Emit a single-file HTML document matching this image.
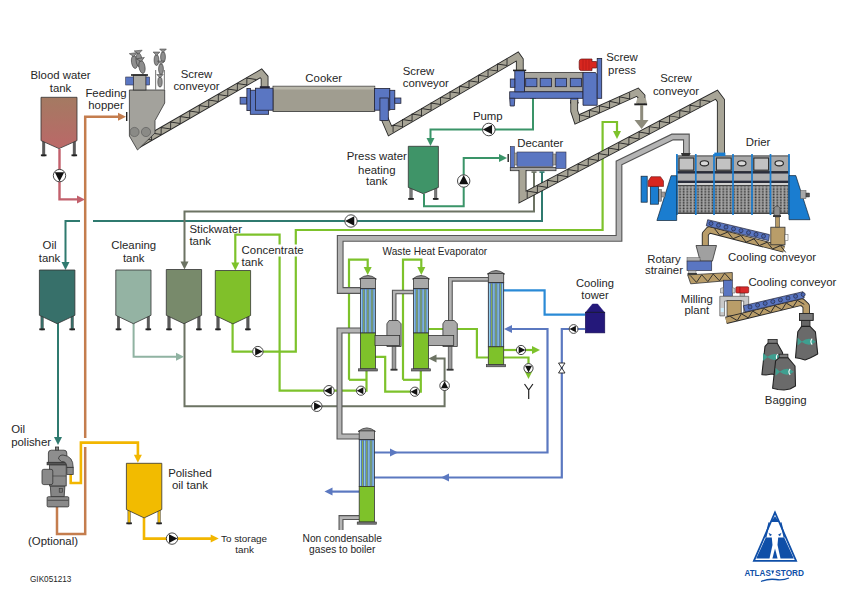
<!DOCTYPE html><html><head><meta charset="utf-8"><style>html,body{margin:0;padding:0;background:#fff;overflow:hidden;width:855px;height:589px;}svg{display:block;font-family:"Liberation Sans",sans-serif;}</style></head><body>
<svg width="855" height="589" viewBox="0 0 855 589">
<defs><linearGradient id="gblood" x1="0" y1="0" x2="0" y2="1"><stop offset="0" stop-color="#a47a62"/><stop offset="1" stop-color="#bb6868"/></linearGradient></defs>
<rect width="855" height="589" fill="#fff"/>
<polyline points="57,507 57,534 85.2,534 85.2,447" fill="none" stroke="#c47d4e" stroke-width="2.5" stroke-linejoin="miter" stroke-linecap="butt" />
<polyline points="85.2,438 85.2,116.7 120,116.7" fill="none" stroke="#c47d4e" stroke-width="2.5" stroke-linejoin="miter" stroke-linecap="butt" />
<polygon points="126,116.7 118,112.7 118,120.7" fill="#c47d4e"/>
<rect x="126" y="112" width="1.4" height="9" fill="#222"/>
<polyline points="59.5,149 59.5,199.4 78,199.4" fill="none" stroke="#c2606c" stroke-width="2.4" stroke-linejoin="miter" stroke-linecap="butt" />
<polygon points="85,199.4 77,195.4 77,203.4" fill="#c2606c"/>
<circle cx="59.5" cy="175.6" r="6.2" fill="#fff" stroke="#333" stroke-width="0.9"/>
<polygon points="59.50,181.49 54.79,172.36 64.21,172.36" fill="#111"/>
<polyline points="542,172 542,221 93,221" fill="none" stroke="#2f7a6f" stroke-width="2" stroke-linejoin="miter" stroke-linecap="butt" />
<polyline points="80,221 65.5,221 65.5,263" fill="none" stroke="#2f7a6f" stroke-width="2" stroke-linejoin="miter" stroke-linecap="butt" />
<polygon points="65.5,270 61.5,262 69.5,262" fill="#2f7a6f"/>
<polyline points="58,323 58,438" fill="none" stroke="#2f7a6f" stroke-width="2" stroke-linejoin="miter" stroke-linecap="butt" />
<polygon points="58,445 54,437 62,437" fill="#2f7a6f"/>
<rect x="539.5" y="171.3" width="5" height="1.6" fill="#2f7a6f"/>
<polyline points="534,172 534,211.5 184.5,211.5 184.5,262" fill="none" stroke="#6c7363" stroke-width="2" stroke-linejoin="miter" stroke-linecap="butt" />
<polygon points="184.5,269.5 180.5,261.5 188.5,261.5" fill="#6c7363"/>
<rect x="531.5" y="171.3" width="5" height="1.6" fill="#6c7363"/>
<polyline points="184.5,323 184.5,406.3 444.6,406.3 444.6,358.6 436,358.6" fill="none" stroke="#6c7363" stroke-width="2" stroke-linejoin="miter" stroke-linecap="butt" />
<polygon points="428.5,358.6 436.5,354.6 436.5,362.6" fill="#6c7363"/>
<polyline points="133.6,323 133.6,356.7 177,356.7" fill="none" stroke="#90b3a2" stroke-width="2" stroke-linejoin="miter" stroke-linecap="butt" />
<polygon points="184,356.7 176,352.7 176,360.7" fill="#90b3a2"/>
<polyline points="366.5,371 366.5,390.7 279.6,390.7 279.6,234.7 235.3,234.7 235.3,263" fill="none" stroke="#7dc22b" stroke-width="2.2" stroke-linejoin="miter" stroke-linecap="butt" />
<polygon points="235.3,270.5 231.3,262.5 239.3,262.5" fill="#7dc22b"/>
<polyline points="232.6,323 232.6,351.6 295.8,351.6 295.8,230 602.6,230 602.6,122 617,122 617,132" fill="none" stroke="#7dc22b" stroke-width="2.2" stroke-linejoin="miter" stroke-linecap="butt" />
<polygon points="617,139 613,131 621,131" fill="#7dc22b"/>
<polyline points="349,379.8 349,259.7 367.7,259.7 367.7,268" fill="none" stroke="#7dc22b" stroke-width="2.2" stroke-linejoin="miter" stroke-linecap="butt" />
<polygon points="367.7,275 363.7,267 371.7,267" fill="#7dc22b"/>
<polyline points="349,379.8 366.5,379.8" fill="none" stroke="#7dc22b" stroke-width="2.2" stroke-linejoin="miter" stroke-linecap="butt" />
<polyline points="375,356.9 385.2,356.9 385.2,391.7 420.8,391.7 420.8,371" fill="none" stroke="#7dc22b" stroke-width="2.2" stroke-linejoin="miter" stroke-linecap="butt" />
<polyline points="403,379.8 403,259.7 421.3,259.7 421.3,268" fill="none" stroke="#7dc22b" stroke-width="2.2" stroke-linejoin="miter" stroke-linecap="butt" />
<polygon points="421.3,275 417.3,267 425.3,267" fill="#7dc22b"/>
<polyline points="403,379.8 420.8,379.8" fill="none" stroke="#7dc22b" stroke-width="2.2" stroke-linejoin="miter" stroke-linecap="butt" />
<polyline points="428.5,329 476.9,329 476.9,357.5 488,357.5" fill="none" stroke="#7dc22b" stroke-width="2.2" stroke-linejoin="miter" stroke-linecap="butt" />
<polyline points="504,350 533,350" fill="none" stroke="#7dc22b" stroke-width="2.2" stroke-linejoin="miter" stroke-linecap="butt" />
<polygon points="540,350 532,346 532,354" fill="#7dc22b"/>
<polyline points="504,357.5 528.5,357.5 528.5,372" fill="none" stroke="#7dc22b" stroke-width="2.2" stroke-linejoin="miter" stroke-linecap="butt" />
<polygon points="528.5,379 524.5,371 532.5,371" fill="#7dc22b"/>
<path d="M524.5,384 L528.7,390 L532.9,384 M528.7,390 L528.7,399" fill="none" stroke="#222" stroke-width="1.2"/>
<polyline points="533,98 533,129.5 430.5,129.5 430.5,139" fill="none" stroke="#3a9468" stroke-width="2" stroke-linejoin="miter" stroke-linecap="butt" />
<polygon points="430.5,146 426.5,138 434.5,138" fill="#3a9468"/>
<rect x="530" y="97" width="6" height="1.4" fill="#222"/>
<polyline points="424,194 424,206.3 463.7,206.3 463.7,158 500,158" fill="none" stroke="#3a9468" stroke-width="2" stroke-linejoin="miter" stroke-linecap="butt" />
<polygon points="507,158 499,154 499,162" fill="#3a9468"/>
<rect x="507.5" y="154" width="1.4" height="8" fill="#222"/>
<polyline points="374,452.5 547.5,452.5 547.5,329 511,329" fill="none" stroke="#5b78c0" stroke-width="2.2" stroke-linejoin="miter" stroke-linecap="butt" />
<polygon points="504,329 512,325 512,333" fill="#5b78c0"/>
<polygon points="398,452.5 390,448.5 390,456.5" fill="#5b78c0"/>
<polyline points="585,329 561.8,329 561.8,477.5 374,477.5" fill="none" stroke="#5b78c0" stroke-width="2.2" stroke-linejoin="miter" stroke-linecap="butt" />
<polygon points="441,477.5 449,473.5 449,481.5" fill="#5b78c0"/>
<polyline points="359,491.6 331,491.6" fill="none" stroke="#5b78c0" stroke-width="2.2" stroke-linejoin="miter" stroke-linecap="butt" />
<polygon points="324.5,491.6 332.5,487.6 332.5,495.6" fill="#5b78c0"/>
<path d="M558.5,363 L565,363 L558.5,373 L565,373 Z" fill="#fff" stroke="#222" stroke-width="0.9"/>
<polyline points="503.7,290.4 544.6,290.4 544.6,314.7 585,314.7" fill="none" stroke="#2a8ad6" stroke-width="2.2" stroke-linejoin="miter" stroke-linecap="butt" />
<polyline points="70.7,474 70.7,483 80.9,483 80.9,442.6 137.9,442.6 137.9,456" fill="none" stroke="#f2b600" stroke-width="2.6" stroke-linejoin="miter" stroke-linecap="butt" />
<polygon points="137.9,462.8 133.9,454.8 141.9,454.8" fill="#f2b600"/>
<polyline points="144,518 144,538.6 211,538.6" fill="none" stroke="#f2b600" stroke-width="2.6" stroke-linejoin="miter" stroke-linecap="butt" />
<polygon points="218.7,538.6 210.7,534.6 210.7,542.6" fill="#f2b600"/>
<polyline points="686.4,153 686.4,137 672.5,137 619,163 619,238.4 340.2,238.4 340.2,290.5 361,290.5" fill="none" stroke="#555" stroke-width="6.8" stroke-linejoin="miter"/>
<polyline points="686.4,153 686.4,137 672.5,137 619,163 619,238.4 340.2,238.4 340.2,290.5 361,290.5" fill="none" stroke="#b4b4b4" stroke-width="4.6" stroke-linejoin="miter"/>
<polyline points="361,330.5 339.5,330.5 339.5,436.5 359,436.5" fill="none" stroke="#555" stroke-width="6" stroke-linejoin="miter"/>
<polyline points="361,330.5 339.5,330.5 339.5,436.5 359,436.5" fill="none" stroke="#b4b4b4" stroke-width="3.8" stroke-linejoin="miter"/>
<polyline points="394.2,321 394.2,292 413.5,292" fill="none" stroke="#555" stroke-width="4.6" stroke-linejoin="miter"/>
<polyline points="394.2,321 394.2,292 413.5,292" fill="none" stroke="#b4b4b4" stroke-width="2.3999999999999995" stroke-linejoin="miter"/>
<polyline points="450.4,321 450.4,279.3 488.5,279.3" fill="none" stroke="#555" stroke-width="4.8" stroke-linejoin="miter"/>
<polyline points="450.4,321 450.4,279.3 488.5,279.3" fill="none" stroke="#b4b4b4" stroke-width="2.5999999999999996" stroke-linejoin="miter"/>
<polyline points="359,517.6 341,517.6 341,530" fill="none" stroke="#555" stroke-width="5" stroke-linejoin="miter"/>
<polyline points="359,517.6 341,517.6 341,530" fill="none" stroke="#b4b4b4" stroke-width="2.8" stroke-linejoin="miter"/>
<circle cx="488.8" cy="129.5" r="6.3" fill="#fff" stroke="#333" stroke-width="0.9"/>
<polygon points="482.81,129.50 492.09,124.71 492.09,134.29" fill="#111"/>
<circle cx="463.7" cy="181" r="6.2" fill="#fff" stroke="#333" stroke-width="0.9"/>
<polygon points="463.70,175.11 458.99,184.24 468.41,184.24" fill="#111"/>
<circle cx="351" cy="221" r="6.2" fill="#fff" stroke="#333" stroke-width="0.9"/>
<polygon points="345.11,221.00 354.24,216.29 354.24,225.71" fill="#111"/>
<circle cx="257.9" cy="351.6" r="5.2" fill="#fff" stroke="#333" stroke-width="0.9"/>
<polygon points="262.84,351.60 255.18,347.65 255.18,355.55" fill="#111"/>
<circle cx="329" cy="390.7" r="5.2" fill="#fff" stroke="#333" stroke-width="0.9"/>
<polygon points="324.06,390.70 331.72,386.75 331.72,394.65" fill="#111"/>
<circle cx="361" cy="390.7" r="4.6" fill="#fff" stroke="#333" stroke-width="0.9"/>
<polygon points="356.63,390.70 363.40,387.20 363.40,394.20" fill="#111"/>
<circle cx="414.9" cy="391.7" r="4.6" fill="#fff" stroke="#333" stroke-width="0.9"/>
<polygon points="410.53,391.70 417.30,388.20 417.30,395.20" fill="#111"/>
<circle cx="316.8" cy="406.3" r="5.2" fill="#fff" stroke="#333" stroke-width="0.9"/>
<polygon points="321.74,406.30 314.08,402.35 314.08,410.25" fill="#111"/>
<circle cx="444.6" cy="385.7" r="4.8" fill="#fff" stroke="#333" stroke-width="0.9"/>
<polygon points="444.60,381.14 440.95,388.21 448.25,388.21" fill="#111"/>
<circle cx="521" cy="350" r="4.6" fill="#fff" stroke="#333" stroke-width="0.9"/>
<polygon points="525.37,350.00 518.60,346.50 518.60,353.50" fill="#111"/>
<circle cx="528.5" cy="368.2" r="4.6" fill="#fff" stroke="#333" stroke-width="0.9"/>
<polygon points="528.50,372.57 525.00,365.80 532.00,365.80" fill="#111"/>
<circle cx="573.6" cy="329" r="4.4" fill="#fff" stroke="#333" stroke-width="0.9"/>
<polygon points="569.42,329.00 575.90,325.66 575.90,332.34" fill="#111"/>
<circle cx="172" cy="538.6" r="5.7" fill="#fff" stroke="#333" stroke-width="0.9"/>
<polygon points="177.41,538.60 169.02,534.27 169.02,542.93" fill="#111"/>
<rect x="42.5" y="136.6" width="2.4" height="19.400000000000006" fill="#5a5a5a" stroke="#444" stroke-width="0.5"/>
<rect x="40.900000000000006" y="154.4" width="5.6" height="1.8" fill="#222"/>
<rect x="73.1" y="136.6" width="2.4" height="19.400000000000006" fill="#5a5a5a" stroke="#444" stroke-width="0.5"/>
<rect x="71.5" y="154.4" width="5.6" height="1.8" fill="#222"/>
<polygon points="41,97.3 77,97.3 77,140.6 59.0,148.6 41,140.6" fill="url(#gblood)" stroke="#333" stroke-width="0.8"/>
<rect x="40.9" y="311.3" width="2.4" height="18.69999999999999" fill="#37706a" stroke="#444" stroke-width="0.5"/>
<rect x="39.300000000000004" y="328.4" width="5.6" height="1.8" fill="#222"/>
<rect x="71.0" y="311.3" width="2.4" height="18.69999999999999" fill="#37706a" stroke="#444" stroke-width="0.5"/>
<rect x="69.4" y="328.4" width="5.6" height="1.8" fill="#222"/>
<polygon points="39.4,270 74.9,270 74.9,315.3 57.15,323.7 39.4,315.3" fill="#37706a" stroke="#333" stroke-width="0.8"/>
<rect x="117.3" y="311.3" width="2.4" height="18.69999999999999" fill="#5a5a5a" stroke="#444" stroke-width="0.5"/>
<rect x="115.7" y="328.4" width="5.6" height="1.8" fill="#222"/>
<rect x="147.10000000000002" y="311.3" width="2.4" height="18.69999999999999" fill="#5a5a5a" stroke="#444" stroke-width="0.5"/>
<rect x="145.5" y="328.4" width="5.6" height="1.8" fill="#222"/>
<polygon points="115.8,270 151.0,270 151.0,315.3 133.4,323.7 115.8,315.3" fill="#94b3a3" stroke="#333" stroke-width="0.8"/>
<rect x="167.8" y="311.3" width="2.4" height="18.69999999999999" fill="#5a5a5a" stroke="#444" stroke-width="0.5"/>
<rect x="166.2" y="328.4" width="5.6" height="1.8" fill="#222"/>
<rect x="197.70000000000005" y="311.3" width="2.4" height="18.69999999999999" fill="#5a5a5a" stroke="#444" stroke-width="0.5"/>
<rect x="196.10000000000002" y="328.4" width="5.6" height="1.8" fill="#222"/>
<polygon points="166.3,269.5 201.60000000000002,269.5 201.60000000000002,315.3 183.95000000000002,323.7 166.3,315.3" fill="#788a6b" stroke="#333" stroke-width="0.8"/>
<rect x="216.8" y="311.5" width="2.4" height="18.5" fill="#5a5a5a" stroke="#444" stroke-width="0.5"/>
<rect x="215.2" y="328.4" width="5.6" height="1.8" fill="#222"/>
<rect x="246.70000000000005" y="311.5" width="2.4" height="18.5" fill="#5a5a5a" stroke="#444" stroke-width="0.5"/>
<rect x="245.10000000000002" y="328.4" width="5.6" height="1.8" fill="#222"/>
<polygon points="215.3,270.5 250.60000000000002,270.5 250.60000000000002,315.5 232.95000000000002,323.9 215.3,315.5" fill="#80c02a" stroke="#333" stroke-width="0.8"/>
<rect x="409.8" y="183.4" width="2.4" height="16.19999999999999" fill="#7a7a7a" stroke="#444" stroke-width="0.5"/>
<rect x="408.2" y="198.0" width="5.6" height="1.8" fill="#222"/>
<rect x="434.50000000000006" y="183.4" width="2.4" height="16.19999999999999" fill="#7a7a7a" stroke="#444" stroke-width="0.5"/>
<rect x="432.90000000000003" y="198.0" width="5.6" height="1.8" fill="#222"/>
<polygon points="408.3,146.3 438.40000000000003,146.3 438.40000000000003,187.4 423.35,193.70000000000002 408.3,187.4" fill="#3f9468" stroke="#333" stroke-width="0.8"/>
<rect x="127.9" y="505.5" width="2.4" height="18.5" fill="#f2bb00" stroke="#444" stroke-width="0.5"/>
<rect x="126.30000000000001" y="522.4" width="5.6" height="1.8" fill="#222"/>
<rect x="157.90000000000003" y="505.5" width="2.4" height="18.5" fill="#f2bb00" stroke="#444" stroke-width="0.5"/>
<rect x="156.3" y="522.4" width="5.6" height="1.8" fill="#222"/>
<polygon points="126.4,463.3 161.8,463.3 161.8,509.5 144.1,517.9 126.4,509.5" fill="#f2bb00" stroke="#333" stroke-width="0.8"/>
<path d="M359.4,279 Q367.9,272 376.4,279 Z" fill="#8a8a8a" stroke="#333" stroke-width="0.8"/>
<rect x="360.4" y="278.5" width="15" height="10.100000000000023" fill="#a9a9a9" stroke="#333" stroke-width="0.8" />
<rect x="360.4" y="288.6" width="15" height="44.39999999999998" fill="#5274b4" stroke="#333" stroke-width="0.8" />
<line x1="361.7" y1="289.40000000000003" x2="361.7" y2="332.5" stroke="#96d4f4" stroke-width="1.1"/>
<line x1="363.8" y1="289.40000000000003" x2="363.8" y2="332.5" stroke="#8cb44a" stroke-width="1.1"/>
<line x1="365.8" y1="289.40000000000003" x2="365.8" y2="332.5" stroke="#96d4f4" stroke-width="1.1"/>
<line x1="367.9" y1="289.40000000000003" x2="367.9" y2="332.5" stroke="#8cb44a" stroke-width="1.1"/>
<line x1="370.0" y1="289.40000000000003" x2="370.0" y2="332.5" stroke="#96d4f4" stroke-width="1.1"/>
<line x1="372.0" y1="289.40000000000003" x2="372.0" y2="332.5" stroke="#8cb44a" stroke-width="1.1"/>
<line x1="374.1" y1="289.40000000000003" x2="374.1" y2="332.5" stroke="#96d4f4" stroke-width="1.1"/>
<rect x="360.4" y="333" width="15" height="35.80000000000001" fill="#7ec22a" stroke="#333" stroke-width="0.8" />
<rect x="358.4" y="368.8" width="19" height="2.2" fill="#777" stroke="#333" stroke-width="0.6" />
<path d="M412.5,279 Q421.0,272 429.5,279 Z" fill="#8a8a8a" stroke="#333" stroke-width="0.8"/>
<rect x="413.5" y="278.5" width="15" height="10.100000000000023" fill="#a9a9a9" stroke="#333" stroke-width="0.8" />
<rect x="413.5" y="288.6" width="15" height="44.39999999999998" fill="#5274b4" stroke="#333" stroke-width="0.8" />
<line x1="414.8" y1="289.40000000000003" x2="414.8" y2="332.5" stroke="#96d4f4" stroke-width="1.1"/>
<line x1="416.9" y1="289.40000000000003" x2="416.9" y2="332.5" stroke="#8cb44a" stroke-width="1.1"/>
<line x1="418.9" y1="289.40000000000003" x2="418.9" y2="332.5" stroke="#96d4f4" stroke-width="1.1"/>
<line x1="421.0" y1="289.40000000000003" x2="421.0" y2="332.5" stroke="#8cb44a" stroke-width="1.1"/>
<line x1="423.1" y1="289.40000000000003" x2="423.1" y2="332.5" stroke="#96d4f4" stroke-width="1.1"/>
<line x1="425.1" y1="289.40000000000003" x2="425.1" y2="332.5" stroke="#8cb44a" stroke-width="1.1"/>
<line x1="427.2" y1="289.40000000000003" x2="427.2" y2="332.5" stroke="#96d4f4" stroke-width="1.1"/>
<rect x="413.5" y="333" width="15" height="35.80000000000001" fill="#7ec22a" stroke="#333" stroke-width="0.8" />
<rect x="411.5" y="368.8" width="19" height="2.2" fill="#777" stroke="#333" stroke-width="0.6" />
<path d="M487.3,274 Q496.0,267 504.7,274 Z" fill="#8a8a8a" stroke="#333" stroke-width="0.8"/>
<rect x="488.3" y="273.5" width="15.4" height="9.100000000000023" fill="#a9a9a9" stroke="#333" stroke-width="0.8" />
<rect x="488.3" y="282.6" width="15.4" height="64.19999999999999" fill="#5274b4" stroke="#333" stroke-width="0.8" />
<line x1="489.6" y1="283.40000000000003" x2="489.6" y2="346.3" stroke="#96d4f4" stroke-width="1.1"/>
<line x1="491.7" y1="283.40000000000003" x2="491.7" y2="346.3" stroke="#8cb44a" stroke-width="1.1"/>
<line x1="493.9" y1="283.40000000000003" x2="493.9" y2="346.3" stroke="#96d4f4" stroke-width="1.1"/>
<line x1="496.0" y1="283.40000000000003" x2="496.0" y2="346.3" stroke="#8cb44a" stroke-width="1.1"/>
<line x1="498.1" y1="283.40000000000003" x2="498.1" y2="346.3" stroke="#96d4f4" stroke-width="1.1"/>
<line x1="500.3" y1="283.40000000000003" x2="500.3" y2="346.3" stroke="#8cb44a" stroke-width="1.1"/>
<line x1="502.4" y1="283.40000000000003" x2="502.4" y2="346.3" stroke="#96d4f4" stroke-width="1.1"/>
<rect x="488.3" y="346.8" width="15.4" height="17.80000000000001" fill="#7ec22a" stroke="#333" stroke-width="0.8" />
<rect x="486.3" y="364.6" width="19.4" height="2.2" fill="#777" stroke="#333" stroke-width="0.6" />
<path d="M358.2,431.4 Q366.8,424.4 375.4,431.4 Z" fill="#8a8a8a" stroke="#333" stroke-width="0.8"/>
<rect x="359.2" y="430.9" width="15.2" height="8.700000000000045" fill="#a9a9a9" stroke="#333" stroke-width="0.8" />
<rect x="359.2" y="439.6" width="15.2" height="46.799999999999955" fill="#5274b4" stroke="#333" stroke-width="0.8" />
<line x1="360.5" y1="440.40000000000003" x2="360.5" y2="485.9" stroke="#96d4f4" stroke-width="1.1"/>
<line x1="362.6" y1="440.40000000000003" x2="362.6" y2="485.9" stroke="#8cb44a" stroke-width="1.1"/>
<line x1="364.7" y1="440.40000000000003" x2="364.7" y2="485.9" stroke="#96d4f4" stroke-width="1.1"/>
<line x1="366.8" y1="440.40000000000003" x2="366.8" y2="485.9" stroke="#8cb44a" stroke-width="1.1"/>
<line x1="368.9" y1="440.40000000000003" x2="368.9" y2="485.9" stroke="#96d4f4" stroke-width="1.1"/>
<line x1="371.0" y1="440.40000000000003" x2="371.0" y2="485.9" stroke="#8cb44a" stroke-width="1.1"/>
<line x1="373.1" y1="440.40000000000003" x2="373.1" y2="485.9" stroke="#96d4f4" stroke-width="1.1"/>
<rect x="359.2" y="486.4" width="15.2" height="35.60000000000002" fill="#7ec22a" stroke="#333" stroke-width="0.8" />
<rect x="357.2" y="522" width="19.2" height="2.2" fill="#777" stroke="#333" stroke-width="0.6" />
<rect x="392.1" y="346.5" width="3.8" height="23.30000000000001" fill="#9c9c9c" stroke="#333" stroke-width="0.6" />
<rect x="390.5" y="368.8" width="7" height="1.8" fill="#333"/>
<path d="M389.09999999999997,320.5 L398.09999999999997,320.5 L401.09999999999997,323.8 L401.09999999999997,346.5 L386.9,346.5 L386.9,323.8 Z" fill="#a9a9a9" stroke="#333" stroke-width="0.8"/>
<rect x="448.2" y="346.5" width="3.8" height="23.30000000000001" fill="#9c9c9c" stroke="#333" stroke-width="0.6" />
<rect x="446.59999999999997" y="368.8" width="7" height="1.8" fill="#333"/>
<path d="M445.09999999999997,320.5 L454.29999999999995,320.5 L457.29999999999995,323.8 L457.29999999999995,346.5 L442.9,346.5 L442.9,323.8 Z" fill="#a9a9a9" stroke="#333" stroke-width="0.8"/>
<rect x="375" y="335.4" width="24.6" height="10" fill="#a9a9a9" stroke="#333" stroke-width="0.8" />
<rect x="428.5" y="335.4" width="25.2" height="10" fill="#a9a9a9" stroke="#333" stroke-width="0.8" />
<polygon points="585.3,312.8 592.5,304 597.6,304 604.8,312.8" fill="#24187a" stroke="#24187a" stroke-width="0.5"/>
<rect x="585.3" y="312.3" width="19.5" height="20.6" fill="#24187a" stroke="#1a1050" stroke-width="0.6" />
<rect x="585.3" y="311.8" width="19.5" height="1.2" fill="#1a1a40"/>
<polyline points="137.9,144.5 261,73.35 264.6,77.5 264.6,88" fill="none" stroke="#2a2a2a" stroke-width="7.8" stroke-linejoin="miter" stroke-miterlimit="10"/>
<polyline points="137.9,144.5 261,73.35 264.6,77.5 264.6,88" fill="none" stroke="#a8a597" stroke-width="6" stroke-linejoin="miter" stroke-miterlimit="10"/>
<g transform="translate(141,142.7) rotate(-30.018)">
<polyline points="-0.5,3.0 3.0,-3.0 10.5,3.0 14.0,-3.0 21.5,3.0 25.0,-3.0 32.5,3.0 36.0,-3.0 43.5,3.0 47.0,-3.0 54.5,3.0 58.0,-3.0 65.5,3.0 69.0,-3.0 76.5,3.0 80.0,-3.0 87.5,3.0 91.0,-3.0 98.5,3.0 102.0,-3.0 109.5,3.0 113.0,-3.0 120.5,3.0 124.0,-3.0 131.5,3.0" fill="none" stroke="#2a2a2a" stroke-width="0.9" stroke-linejoin="miter"/>
</g>
<path d="M129.4,90 L164.7,90 L164.7,103 L155,120.6 L155,133 L137.5,150 L129.4,136 Z" fill="#a3a29c" stroke="#333" stroke-width="0.8"/>
<circle cx="134.5" cy="132" r="4.6" fill="#8a8a86" stroke="#555" stroke-width="0.6"/>
<circle cx="146" cy="132" r="4.6" fill="#8a8a86" stroke="#555" stroke-width="0.6"/>
<rect x="133.3" y="75" width="12.7" height="15" fill="#aaa9a3" stroke="#333" stroke-width="0.8" />
<rect x="131" y="74.2" width="17" height="1.6" fill="#222"/>
<rect x="125.7" y="77" width="7.6" height="8" fill="#5a76c2" stroke="#334" stroke-width="0.6" />
<rect x="146" y="77" width="3.6" height="8" fill="#5a76c2" stroke="#334" stroke-width="0.6" />
<rect x="155" y="70" width="1.2" height="20" fill="#888"/><rect x="163.8" y="70" width="1.2" height="20" fill="#888"/>
<g transform="translate(134.5,62) rotate(-8)"><ellipse cx="0" cy="0" rx="3" ry="6.5" fill="#8e8e8e" stroke="#333" stroke-width="0.6"/><path d="M0,-5.5 L-4,-9.0 L4,-9.0 Z" fill="#8e8e8e" stroke="#333" stroke-width="0.5"/></g>
<g transform="translate(139,60) rotate(-5)"><ellipse cx="0" cy="0" rx="3" ry="7" fill="#8e8e8e" stroke="#333" stroke-width="0.6"/><path d="M0,-6 L-4,-9.5 L4,-9.5 Z" fill="#8e8e8e" stroke="#333" stroke-width="0.5"/></g>
<g transform="translate(142,67) rotate(-10)"><ellipse cx="0" cy="0" rx="3" ry="6.5" fill="#8e8e8e" stroke="#333" stroke-width="0.6"/><path d="M0,-5.5 L-4,-9.0 L4,-9.0 Z" fill="#8e8e8e" stroke="#333" stroke-width="0.5"/></g>
<g transform="translate(156.5,60) rotate(0)"><ellipse cx="0" cy="0" rx="2.4" ry="5.5" fill="#8e8e8e" stroke="#333" stroke-width="0.6"/><path d="M0,-4.5 L-3.4,-8.0 L3.4,-8.0 Z" fill="#8e8e8e" stroke="#333" stroke-width="0.5"/></g>
<g transform="translate(163,57) rotate(0)"><ellipse cx="0" cy="0" rx="2.4" ry="5.5" fill="#8e8e8e" stroke="#333" stroke-width="0.6"/><path d="M0,-4.5 L-3.4,-8.0 L3.4,-8.0 Z" fill="#8e8e8e" stroke="#333" stroke-width="0.5"/></g>
<g transform="translate(161,69) rotate(0)"><ellipse cx="0" cy="0" rx="2.4" ry="5.5" fill="#8e8e8e" stroke="#333" stroke-width="0.6"/><path d="M0,-4.5 L-3.4,-8.0 L3.4,-8.0 Z" fill="#8e8e8e" stroke="#333" stroke-width="0.5"/></g>
<g transform="translate(160,82) rotate(0)"><ellipse cx="0" cy="0" rx="2.2" ry="5" fill="#8e8e8e" stroke="#333" stroke-width="0.6"/><path d="M0,-4 L-3.2,-7.5 L3.2,-7.5 Z" fill="#8e8e8e" stroke="#333" stroke-width="0.5"/></g>
<rect x="273" y="86.2" width="101.8" height="25.3" fill="#a09d90" stroke="#333" stroke-width="0.8" />
<rect x="273.5" y="86.7" width="101" height="2.8" fill="#b9b7aa"/>
<rect x="240.1" y="97.3" width="6.8" height="6.8" fill="#5a76c2" stroke="#223" stroke-width="0.8" />
<rect x="246.9" y="88.5" width="3.6" height="22.1" fill="#5a76c2" stroke="#223" stroke-width="0.8" />
<rect x="250.3" y="90.2" width="18.3" height="24.1" fill="#5a76c2" stroke="#223" stroke-width="0.8" />
<rect x="255.4" y="88.2" width="17.6" height="22" fill="#5a76c2" stroke="#223" stroke-width="0.8" />
<rect x="259.8" y="86.2" width="10" height="1.8" fill="#223"/>
<rect x="374.5" y="88.4" width="15.3" height="21.8" fill="#5a76c2" stroke="#223" stroke-width="0.8" />
<rect x="389.8" y="90.3" width="5" height="19.1" fill="#5a76c2" stroke="#223" stroke-width="0.8" />
<rect x="394.8" y="98" width="6.1" height="5.3" fill="#5a76c2" stroke="#223" stroke-width="0.8" />
<polyline points="384.4,118 390,131 517.3,56.5 519.8,60 519.8,72" fill="none" stroke="#2a2a2a" stroke-width="7.8" stroke-linejoin="miter" stroke-miterlimit="10"/>
<polyline points="384.4,118 390,131 517.3,56.5 519.8,60 519.8,72" fill="none" stroke="#a8a597" stroke-width="6" stroke-linejoin="miter" stroke-miterlimit="10"/>
<g transform="translate(392,129.3) rotate(-30.328)">
<polyline points="-0.5,3.0 3.0,-3.0 10.5,3.0 14.0,-3.0 21.5,3.0 25.0,-3.0 32.5,3.0 36.0,-3.0 43.5,3.0 47.0,-3.0 54.5,3.0 58.0,-3.0 65.5,3.0 69.0,-3.0 76.5,3.0 80.0,-3.0 87.5,3.0 91.0,-3.0 98.5,3.0 102.0,-3.0 109.5,3.0 113.0,-3.0 120.5,3.0 124.0,-3.0 131.5,3.0 135.0,-3.0" fill="none" stroke="#2a2a2a" stroke-width="0.9" stroke-linejoin="miter"/>
</g>
<rect x="379.9" y="98" width="8.4" height="22.5" fill="#5a76c2" stroke="#223" stroke-width="0.8" />
<rect x="524.5" y="72.5" width="58.5" height="19.3" fill="#a8a69e" stroke="#333" stroke-width="0.8" />
<rect x="525.7" y="78.3" width="11.2" height="8.4" fill="#5a76c2" stroke="#223" stroke-width="0.8" />
<rect x="540.2" y="78.3" width="11.2" height="8.4" fill="#5a76c2" stroke="#223" stroke-width="0.8" />
<rect x="555.3" y="78.3" width="11.2" height="8.4" fill="#5a76c2" stroke="#223" stroke-width="0.8" />
<rect x="570.3" y="78.3" width="11.2" height="8.4" fill="#5a76c2" stroke="#223" stroke-width="0.8" />
<rect x="509.7" y="91.8" width="73.3" height="6.5" fill="#5a76c2" stroke="#223" stroke-width="0.8" />
<rect x="514.8" y="70.6" width="9.7" height="21.2" fill="#5a76c2" stroke="#223" stroke-width="0.8" />
<rect x="513" y="69.6" width="13.2" height="1.6" fill="#222"/>
<rect x="510.3" y="79" width="4.5" height="8.3" fill="#5a76c2" stroke="#223" stroke-width="0.8" />
<path d="M509.7,98.3 L514.8,98.3 L514.3,106 L510.2,106 Z" fill="#5a76c2" stroke="#223" stroke-width="0.8"/>
<path d="M583,72.5 L595.5,72.5 L597.2,75 L597.2,105.3 L583,105.3 Z" fill="#5a76c2" stroke="#223" stroke-width="0.8"/>
<rect x="597.2" y="58.4" width="4.5" height="39.9" fill="#5a76c2" stroke="#223" stroke-width="0.8" />
<path d="M581.5,59 L592,59 L592,61.5 L596.5,61.5 L596.5,68 L592,68 L592,70.6 L581.5,70.6 Q579.2,70.6 579.2,68 L579.2,61.5 Q579.2,59 581.5,59 Z" fill="#d8261f" stroke="#611" stroke-width="0.7"/>
<path d="M583,59.5 L583,70 M586,59.5 L586,70 M589,59.5 L589,70" stroke="#a01515" stroke-width="0.5"/>
<rect x="570.8" y="98.3" width="7.1" height="4" fill="#5a76c2" stroke="#223" stroke-width="0.7" />
<rect x="570" y="102" width="8.6" height="1.5" fill="#222"/>
<polyline points="574.2,100 574.2,111 577,119.4 637.5,92.2 641.5,96.5 641.5,104.5" fill="none" stroke="#2a2a2a" stroke-width="7.8" stroke-linejoin="miter" stroke-miterlimit="10"/>
<polyline points="574.2,100 574.2,111 577,119.4 637.5,92.2 641.5,96.5 641.5,104.5" fill="none" stroke="#a8a597" stroke-width="6" stroke-linejoin="miter" stroke-miterlimit="10"/>
<g transform="translate(578,118.9) rotate(-24.186)">
<polyline points="0.3,3.0 3.0,-3.0 11.3,3.0 14.0,-3.0 22.3,3.0 25.0,-3.0 33.3,3.0 36.0,-3.0 44.3,3.0 47.0,-3.0 55.3,3.0 58.0,-3.0" fill="none" stroke="#2a2a2a" stroke-width="0.9" stroke-linejoin="miter"/>
</g>
<path d="M637.3,98 L645.7,98 L647.1,103.6 L635.9,103.6 Z" fill="#a8a597"/>
<rect x="634.3" y="103.4" width="12.8" height="1.9" fill="#222"/>
<rect x="640.2" y="105" width="3" height="16" fill="#8d8b7c"/>
<polygon points="634.5,120 648.5,120 641.6,129" fill="#8d8b7c"/>
<rect x="510.3" y="167.5" width="45.7" height="3.2" fill="#a3a3a3" stroke="#333" stroke-width="0.8" />
<polyline points="522.5,170 522.5,197.1 716.5,94.7 720.9,100.5 720.9,153" fill="none" stroke="#2a2a2a" stroke-width="8.0" stroke-linejoin="miter" stroke-miterlimit="10"/>
<polyline points="522.5,170 522.5,197.1 716.5,94.7 720.9,100.5 720.9,153" fill="none" stroke="#a8a597" stroke-width="6.2" stroke-linejoin="miter" stroke-miterlimit="10"/>
<g transform="translate(526,195.2) rotate(-27.819)">
<polyline points="-0.3,3.1 3.0,-3.1 11.2,3.1 14.5,-3.1 22.7,3.1 26.0,-3.1 34.2,3.1 37.5,-3.1 45.7,3.1 49.0,-3.1 57.2,3.1 60.5,-3.1 68.7,3.1 72.0,-3.1 80.2,3.1 83.5,-3.1 91.7,3.1 95.0,-3.1 103.2,3.1 106.5,-3.1 114.7,3.1 118.0,-3.1 126.2,3.1 129.5,-3.1 137.7,3.1 141.0,-3.1 149.2,3.1 152.5,-3.1 160.7,3.1 164.0,-3.1 172.2,3.1 175.5,-3.1 183.7,3.1 187.0,-3.1 195.2,3.1 198.5,-3.1 206.7,3.1" fill="none" stroke="#2a2a2a" stroke-width="0.9" stroke-linejoin="miter"/>
</g>
<rect x="510.3" y="146.5" width="4" height="21" fill="#5a76c2" stroke="#334" stroke-width="0.6" />
<rect x="514.3" y="153" width="3" height="12" fill="#a3a3a3" stroke="#555" stroke-width="0.5" />
<rect x="517" y="152" width="36" height="14.3" fill="#5a76c2" stroke="#334" stroke-width="0.6" />
<rect x="553" y="154" width="3" height="11" fill="#a3a3a3" stroke="#555" stroke-width="0.5" />
<rect x="556" y="152" width="10" height="16.5" fill="#5a76c2" stroke="#334" stroke-width="0.6" />
<rect x="676.7" y="155.9" width="112.3" height="15.6" fill="#a9a9a9" stroke="#333" stroke-width="0.9" />
<rect x="676.7" y="171.4" width="112.3" height="2.4" fill="#2a2d3a"/>
<rect x="676.7" y="173.8" width="112.3" height="6.7" fill="#b0b0b0"/>
<rect x="676.7" y="180.5" width="112.3" height="2.6" fill="#2a2d3a"/>
<rect x="676.7" y="183.1" width="112.3" height="1.9" fill="#cfcfcf"/>
<rect x="676.7" y="185" width="112.3" height="1.6" fill="#444"/>
<defs><pattern id="dgrid" x="678.6" y="187.8" width="3.6" height="2.75" patternUnits="userSpaceOnUse"><rect width="3.6" height="2.75" fill="#a6a6a6"/><rect x="0.6" y="0.5" width="1.7" height="1.6" fill="#2e2e2e"/></pattern></defs>
<rect x="676.7" y="186.6" width="112.3" height="26.6" fill="url(#dgrid)"/>
<rect x="676.7" y="212.6" width="112.3" height="1.3" fill="#333"/>
<rect x="679.0" y="158" width="14.8" height="12.2" fill="#c2c2c2" stroke="#333" stroke-width="1.2" />
<ellipse cx="704.4" cy="163.3" rx="4.2" ry="2.6" fill="#d8d8d8" stroke="#222" stroke-width="1.1"/>
<rect x="716.4" y="158" width="14.8" height="12.2" fill="#c2c2c2" stroke="#333" stroke-width="1.2" />
<ellipse cx="741.8" cy="163.3" rx="4.2" ry="2.6" fill="#d8d8d8" stroke="#222" stroke-width="1.1"/>
<rect x="753.8" y="158" width="14.8" height="12.2" fill="#c2c2c2" stroke="#333" stroke-width="1.2" />
<ellipse cx="779.1999999999999" cy="163.3" rx="4.2" ry="2.6" fill="#d8d8d8" stroke="#222" stroke-width="1.1"/>
<rect x="676.05" y="154" width="1.7" height="61" fill="#1a7dd0"/>
<rect x="694.9499999999999" y="154" width="1.7" height="61" fill="#1a7dd0"/>
<rect x="713.15" y="154" width="1.7" height="61" fill="#1a7dd0"/>
<rect x="732.15" y="154" width="1.7" height="61" fill="#1a7dd0"/>
<rect x="751.15" y="154" width="1.7" height="61" fill="#1a7dd0"/>
<rect x="769.65" y="154" width="1.7" height="61" fill="#1a7dd0"/>
<rect x="788.15" y="154" width="1.7" height="61" fill="#1a7dd0"/>
<rect x="714.3" y="152.6" width="11.1" height="3.5" fill="#1a7dd0"/>
<path d="M681,153 L690.6,153 L689.5,156.1 L682,156.1 Z" fill="#333"/>
<polygon points="671.1,175.7 676.7,175.7 676.7,220.5 656.9,220.5" fill="#1a7dd0" stroke="#123" stroke-width="0.7"/>
<polygon points="789,175.6 795.8,175.6 810,219.7 789,219.7" fill="#1a7dd0" stroke="#123" stroke-width="0.7"/>
<rect x="800.6" y="190.5" width="5.4" height="8.2" fill="#a8a8a8" stroke="#555" stroke-width="0.5" />
<rect x="806" y="193" width="3.5" height="4" fill="#555" stroke="#222" stroke-width="0.4" />
<rect x="658.4" y="189.4" width="3.1" height="11.8" fill="#a09a98" stroke="#555" stroke-width="0.5" />
<rect x="661.5" y="192" width="3.5" height="5" fill="#a09a98" stroke="#555" stroke-width="0.5" />
<rect x="641.1" y="176.2" width="6.1" height="26" fill="#1a7dd0" stroke="#123" stroke-width="0.7" />
<rect x="650.3" y="186.4" width="8.1" height="17.8" fill="#1a7dd0" stroke="#123" stroke-width="0.7" />
<path d="M648.2,181 L651,176.7 L660.5,176.7 L663.5,181 L663.5,186.4 L648.2,186.4 Z" fill="#d8261f" stroke="#611" stroke-width="0.6"/>
<path d="M774,216 L774,208 Q777,204 780,208 L780,216 Z" fill="#8e8e8e" stroke="#444" stroke-width="0.7"/>
<rect x="773" y="215.2" width="8" height="1.8" fill="#333"/>
<rect x="775.5" y="217" width="4.1" height="10.5" fill="#b99d69" stroke="#444" stroke-width="0.6" />
<polyline points="705.3,246 705.3,234 709,229.8 784,249.2" fill="none" stroke="#2a2a2a" stroke-width="7.0" stroke-linejoin="round" stroke-miterlimit="10"/>
<polyline points="705.3,246 705.3,234 709,229.8 784,249.2" fill="none" stroke="#b99d69" stroke-width="5.2" stroke-linejoin="round" stroke-miterlimit="10"/>
<g transform="translate(711,230.4) rotate(14.485)">
<polyline points="3.0,-2.6 9.8,2.6 16.6,-2.6 23.4,2.6 30.2,-2.6 37.0,2.6 43.8,-2.6 50.6,2.6 57.4,-2.6 64.2,2.6 71.0,-2.6 77.8,2.6" fill="none" stroke="#2a2a2a" stroke-width="0.9" stroke-linejoin="miter"/>
</g>
<rect x="770.8" y="227.2" width="14.2" height="17.6" fill="#b99d69" stroke="#333" stroke-width="0.8" />
<rect x="785" y="234.5" width="3" height="6" fill="#fff" stroke="#555" stroke-width="0.5" />
<polygon points="707.7,219.7 769.4,234.6 768.8,240.7 706.3,225.8" fill="#5a76c2" stroke="#223" stroke-width="0.7"/>
<circle cx="711.0" cy="223.5" r="2" fill="#4a66b2" stroke="#223" stroke-width="0.6"/>
<circle cx="718.5" cy="225.3" r="2" fill="#4a66b2" stroke="#223" stroke-width="0.6"/>
<circle cx="726.0" cy="227.1" r="2" fill="#4a66b2" stroke="#223" stroke-width="0.6"/>
<circle cx="733.5" cy="228.9" r="2" fill="#4a66b2" stroke="#223" stroke-width="0.6"/>
<circle cx="741.0" cy="230.7" r="2" fill="#4a66b2" stroke="#223" stroke-width="0.6"/>
<circle cx="748.5" cy="232.6" r="2" fill="#4a66b2" stroke="#223" stroke-width="0.6"/>
<circle cx="756.0" cy="234.4" r="2" fill="#4a66b2" stroke="#223" stroke-width="0.6"/>
<circle cx="763.5" cy="236.2" r="2" fill="#4a66b2" stroke="#223" stroke-width="0.6"/>
<polygon points="696,245.5 716.5,245.5 712.4,261.1 700.2,261.1" fill="#a0a0a0" stroke="#333" stroke-width="0.8"/>
<rect x="687" y="257.7" width="13" height="3.4" fill="#b0b0b0" stroke="#555" stroke-width="0.5" />
<rect x="687" y="261.1" width="24.7" height="9.5" fill="#5a76c2" stroke="#334" stroke-width="0.7" />
<rect x="688.3" y="270.6" width="7.7" height="3.4" fill="#c0c0c0" stroke="#555" stroke-width="0.4" />
<rect x="687.5" y="273.2" width="9.5" height="1.6" fill="#222"/>
<polygon points="687.7,274.9 732.3,272.5 732.3,280.2 690.7,283.8" fill="#b99d69" stroke="#333" stroke-width="0.8"/>
<g transform="translate(689.5,279.2) rotate(-3.814)">
<polyline points="1.0,-3.6 6.8,3.6 12.5,-3.6 18.2,3.6 24.0,-3.6 29.8,3.6 35.5,-3.6 41.2,3.6" fill="none" stroke="#2a2a2a" stroke-width="0.9" stroke-linejoin="miter"/>
</g>
<rect x="723.4" y="280.2" width="8.9" height="16.1" fill="#5a76c2" stroke="#334" stroke-width="0.7" />
<path d="M723.4,287.5 L720.5,288.5 L720.5,293 L723.4,293 Z" fill="#d0d0d0" stroke="#555" stroke-width="0.5"/>
<path d="M732.3,287.5 L735,288.5 L735,293 L732.3,293 Z" fill="#d0d0d0" stroke="#555" stroke-width="0.5"/>
<rect x="740" y="293" width="4.8" height="3.3" fill="#bbb" stroke="#555" stroke-width="0.5" />
<rect x="735.9" y="286.8" width="12.8" height="6.2" rx="1" fill="#d82a2a" stroke="#611" stroke-width="0.6"/>
<rect x="739.5" y="286.8" width="0.8" height="6.2" fill="#911"/>
<path d="M719.8,296.3 L748.7,296.3 L748.7,315.9 L743.7,315.9 L743.7,301 L724.6,301 L724.6,315.9 L719.8,315.9 Z" fill="#c9c9c9" stroke="#555" stroke-width="0.7"/>
<rect x="727" y="300.4" width="14.2" height="15.6" fill="#b99d69" stroke="#333" stroke-width="0.7" />
<rect x="720.8" y="308" width="3" height="4" fill="#cfefff"/>
<polyline points="726,320.4 802,302 806.2,306 806.2,314" fill="none" stroke="#2a2a2a" stroke-width="7.3999999999999995" stroke-linejoin="round" stroke-miterlimit="10"/>
<polyline points="726,320.4 802,302 806.2,306 806.2,314" fill="none" stroke="#b99d69" stroke-width="5.6" stroke-linejoin="round" stroke-miterlimit="10"/>
<g transform="translate(728,319.9) rotate(-13.568)">
<polyline points="3.0,-2.8 8.8,2.8 14.5,-2.8 20.2,2.8 26.0,-2.8 31.8,2.8 37.5,-2.8 43.2,2.8 49.0,-2.8 54.8,2.8 60.5,-2.8 66.2,2.8 72.0,-2.8 77.8,2.8" fill="none" stroke="#2a2a2a" stroke-width="0.9" stroke-linejoin="miter"/>
</g>
<polygon points="743.4,305.7 803,291.7 804.2,298 745,312" fill="#5a76c2" stroke="#223" stroke-width="0.7"/>
<circle cx="750.0" cy="307.0" r="2" fill="#4a66b2" stroke="#223" stroke-width="0.6"/>
<circle cx="757.6" cy="305.2" r="2" fill="#4a66b2" stroke="#223" stroke-width="0.6"/>
<circle cx="765.2" cy="303.4" r="2" fill="#4a66b2" stroke="#223" stroke-width="0.6"/>
<circle cx="772.8" cy="301.6" r="2" fill="#4a66b2" stroke="#223" stroke-width="0.6"/>
<circle cx="780.4" cy="299.9" r="2" fill="#4a66b2" stroke="#223" stroke-width="0.6"/>
<circle cx="788.0" cy="298.1" r="2" fill="#4a66b2" stroke="#223" stroke-width="0.6"/>
<circle cx="795.6" cy="296.3" r="2" fill="#4a66b2" stroke="#223" stroke-width="0.6"/>
<circle cx="803.2" cy="294.5" r="2" fill="#4a66b2" stroke="#223" stroke-width="0.6"/>
<rect x="801.6" y="320.3" width="8.4" height="6.1" fill="#666" stroke="#222" stroke-width="0.8" />
<path d="M801.6,326.4 L810,326.4 L815.4,331.8 L817.7,353.9 L814,356 L810,358 L805,360 L800,358.5 L795.5,357.7 L797.8,331.8 Z" fill="#6a6a6a" stroke="#222" stroke-width="1.1" stroke-linejoin="round"/>
<rect x="799.6" y="313.4" width="13.5" height="6.9" fill="#7a7a7a" stroke="#222" stroke-width="0.8" />
<g transform="translate(808,341.7) scale(1.3)"><path d="M-5,0 Q1,-4.5 6,0 Q1,4.5 -5,0 Z M-4.5,0 L-8,-3 L-8,3 Z" fill="#3f9f90"/><path d="M3.2,-2.3 Q1.2,0 3.2,2.3" fill="none" stroke="#fff" stroke-width="0.8"/></g>
<path d="M768,343.2 L777.2,343.2 L782.5,352.4 L784,372 L778,375.5 L772,374 L766,375 L761.9,374.6 L765,346.3 Z" fill="#6a6a6a" stroke="#222" stroke-width="1.1" stroke-linejoin="round"/>
<rect x="768" y="339.4" width="9.2" height="3.8" fill="#7a7a7a" stroke="#222" stroke-width="0.8" />
<g transform="translate(773.5,357) scale(1.3)"><path d="M-5,0 Q1,-4.5 6,0 Q1,4.5 -5,0 Z M-4.5,0 L-8,-3 L-8,3 Z" fill="#3f9f90"/><path d="M3.2,-2.3 Q1.2,0 3.2,2.3" fill="none" stroke="#fff" stroke-width="0.8"/></g>
<path d="M779.2,357.7 L787.9,357.7 L795,366 L795.5,386 L790,389 L784,390 L778,389.5 L772.6,388.3 L775.6,360.8 Z" fill="#6a6a6a" stroke="#222" stroke-width="1.1" stroke-linejoin="round"/>
<rect x="779.2" y="354.2" width="8.7" height="3.5" fill="#7a7a7a" stroke="#222" stroke-width="0.8" />
<g transform="translate(786,371.8) scale(1.3)"><path d="M-5,0 Q1,-4.5 6,0 Q1,4.5 -5,0 Z M-4.5,0 L-8,-3 L-8,3 Z" fill="#3f9f90"/><path d="M3.2,-2.3 Q1.2,0 3.2,2.3" fill="none" stroke="#fff" stroke-width="0.8"/></g>
<rect x="799.6" y="313.4" width="13.5" height="6.9" fill="#7a7a7a" stroke="#222" stroke-width="0.8" />
<text x="60.5" y="79" font-size="11.4" text-anchor="middle" fill="#262626" >Blood water</text>
<text x="60.5" y="92" font-size="11.4" text-anchor="middle" fill="#262626" >tank</text>
<text x="106" y="97" font-size="11.4" text-anchor="middle" fill="#262626" >Feeding</text>
<text x="106" y="109" font-size="11.4" text-anchor="middle" fill="#262626" >hopper</text>
<text x="196.5" y="77.8" font-size="11.4" text-anchor="middle" fill="#262626" >Screw</text>
<text x="196.5" y="90" font-size="11.4" text-anchor="middle" fill="#262626" >conveyor</text>
<text x="323.7" y="81.6" font-size="11.4" text-anchor="middle" fill="#262626" >Cooker</text>
<text x="402.7" y="74.7" font-size="11.4" text-anchor="start" fill="#262626" >Screw</text>
<text x="402.7" y="87.4" font-size="11.4" text-anchor="start" fill="#262626" >conveyor</text>
<text x="622" y="61" font-size="11.4" text-anchor="middle" fill="#262626" >Screw</text>
<text x="622" y="73.7" font-size="11.4" text-anchor="middle" fill="#262626" >press</text>
<text x="676" y="82" font-size="11.4" text-anchor="middle" fill="#262626" >Screw</text>
<text x="676" y="94.7" font-size="11.4" text-anchor="middle" fill="#262626" >conveyor</text>
<text x="487.8" y="120" font-size="11.4" text-anchor="middle" fill="#262626" >Pump</text>
<text x="376.8" y="160" font-size="11.4" text-anchor="middle" fill="#262626" >Press water</text>
<text x="376.8" y="173.7" font-size="11.4" text-anchor="middle" fill="#262626" >heating</text>
<text x="376.8" y="185.3" font-size="11.4" text-anchor="middle" fill="#262626" >tank</text>
<text x="540.3" y="146.5" font-size="11.4" text-anchor="middle" fill="#262626" >Decanter</text>
<text x="758" y="146" font-size="11.4" text-anchor="middle" fill="#262626" >Drier</text>
<text x="49.5" y="249.4" font-size="11.4" text-anchor="middle" fill="#262626" >Oil</text>
<text x="49.5" y="261.6" font-size="11.4" text-anchor="middle" fill="#262626" >tank</text>
<text x="133.7" y="249.4" font-size="11.4" text-anchor="middle" fill="#262626" >Cleaning</text>
<text x="133.7" y="262" font-size="11.4" text-anchor="middle" fill="#262626" >tank</text>
<text x="189.4" y="232.6" font-size="11.4" text-anchor="start" fill="#262626" >Stickwater</text>
<text x="189.4" y="245.3" font-size="11.4" text-anchor="start" fill="#262626" >tank</text>
<rect x="276.5" y="244.5" width="23" height="12" fill="#fff"/>
<text x="241.6" y="253.7" font-size="11.4" text-anchor="start" fill="#262626" >Concentrate</text>
<text x="241.6" y="266.3" font-size="11.4" text-anchor="start" fill="#262626" >tank</text>
<text x="382.6" y="254.6" font-size="10.1" text-anchor="start" fill="#262626" >Waste Heat Evaporator</text>
<text x="595" y="287.3" font-size="11.2" text-anchor="middle" fill="#262626" >Cooling</text>
<text x="595" y="298.5" font-size="11.2" text-anchor="middle" fill="#262626" >tower</text>
<text x="664" y="262.6" font-size="11.4" text-anchor="middle" fill="#262626" >Rotary</text>
<text x="664" y="274.2" font-size="11.4" text-anchor="middle" fill="#262626" >strainer</text>
<text x="728" y="260.5" font-size="11.4" text-anchor="start" fill="#262626" >Cooling conveyor</text>
<text x="748.4" y="285.8" font-size="11.4" text-anchor="start" fill="#262626" >Cooling conveyor</text>
<text x="696.8" y="302.6" font-size="11.4" text-anchor="middle" fill="#262626" >Milling</text>
<text x="696.8" y="314" font-size="11.4" text-anchor="middle" fill="#262626" >plant</text>
<text x="785.7" y="404" font-size="11.4" text-anchor="middle" fill="#262626" >Bagging</text>
<text x="11.2" y="433" font-size="11.4" text-anchor="start" fill="#262626" >Oil</text>
<text x="11.2" y="445.7" font-size="11.4" text-anchor="start" fill="#262626" >polisher</text>
<text x="28" y="544.8" font-size="11.4" text-anchor="start" fill="#262626" >(Optional)</text>
<text x="190" y="476.7" font-size="11.4" text-anchor="middle" fill="#262626" >Polished</text>
<text x="190" y="489.3" font-size="11.4" text-anchor="middle" fill="#262626" >oil tank</text>
<text x="221" y="541.6" font-size="9.9" text-anchor="start" fill="#262626" >To storage</text>
<text x="244.5" y="552.5" font-size="9.9" text-anchor="middle" fill="#262626" >tank</text>
<text x="342.2" y="542" font-size="10.2" text-anchor="middle" fill="#262626" >Non condensable</text>
<text x="342.2" y="552.8" font-size="10.2" text-anchor="middle" fill="#262626" >gases to boiler</text>
<text x="30" y="582" font-size="8.2" text-anchor="start" fill="#262626" >GIK051213</text>
<g stroke="#333" stroke-width="0.8">
<rect x="55.4" y="447" width="3.2" height="3.6" fill="#888"/>
<path d="M50.3,486 L64.9,486 L64.2,496.7 L51,496.7 Z" fill="#858585"/>
<rect x="59.2" y="488.4" width="3.2" height="3.8" fill="#777" stroke-width="0.6"/>
<rect x="47.1" y="496.7" width="21.7" height="10.2" rx="1.2" fill="#8a8a8a"/>
<line x1="47.6" y1="500.3" x2="68.3" y2="500.3" stroke-width="0.7"/>
<rect x="49.6" y="464.8" width="16.6" height="21.1" fill="#8a8a8a"/>
<line x1="49.6" y1="476" x2="66.2" y2="476" stroke-width="0.6"/>
<path d="M48.4,463 L48.4,453 Q48.4,450.2 51.2,450.2 L64,450.2 Q66.8,450.2 66.8,453 L66.8,463 Z" fill="#8e8e8e"/>
<rect x="47.1" y="462.3" width="20.4" height="2.5" fill="#555"/>
<rect x="42" y="469.3" width="10.8" height="15.3" rx="1.8" fill="#8a8a8a"/>
<path d="M58.6,459 Q58.6,455 63,455 Q73.2,456 73.2,467.4 L66.8,467.4 Q66.8,461 61.5,461.5 Z" fill="#8e8e8e"/>
<rect x="66.8" y="467.4" width="6.4" height="7" fill="#8a8a8a"/>
</g>
<polygon points="775,512.4 753.9,560.8 796.1,560.8" fill="none" stroke="#0f4fa8" stroke-width="1.8" stroke-linejoin="miter"/>
<polygon points="775,516.3 779.4,522 770.6,522" fill="#0f4fa8"/>
<path d="M769.2,522.5 L765.6,537.5 M780.8,522.5 L784.4,537.5" stroke="#0f4fa8" stroke-width="1.5"/>
<polygon points="765.8,537.5 771.8,537.5 772.5,545 769.5,558.6 756.2,558.6" fill="#0f4fa8"/>
<polygon points="778.2,537.5 784.2,537.5 793.8,558.6 780.5,558.6 777.5,545" fill="#0f4fa8"/>
<polygon points="775,548.5 777.6,558.6 772.4,558.6" fill="#0f4fa8"/>
<polygon points="768.5,532.8 772,534.8 770,536.3" fill="#0f4fa8"/><polygon points="781.5,532.8 778,534.8 780,536.3" fill="#0f4fa8"/>
<text x="744.4" y="575.5" font-size="9.4" font-weight="bold" fill="#0f4fa8" textLength="26.4" lengthAdjust="spacingAndGlyphs">ATLAS</text>
<polygon points="771.2,570.5 774.2,570.5 772.7,574.5" fill="#0f4fa8"/>
<text x="775.3" y="575.5" font-size="9.4" font-weight="bold" fill="#0f4fa8" textLength="28.7" lengthAdjust="spacingAndGlyphs">STORD</text>
<path d="M761,581.5 Q768,578.5 776,579.5 Q783,580.5 789,578" fill="none" stroke="#0f4fa8" stroke-width="1.3"/>
</svg></body></html>
